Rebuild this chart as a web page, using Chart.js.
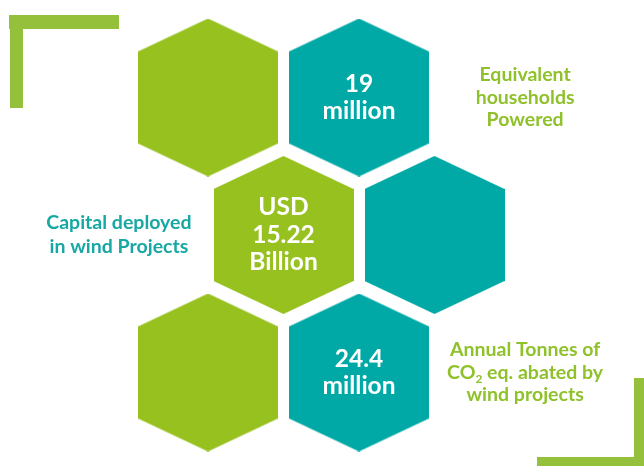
<!DOCTYPE html>
<html>
<head>
<meta charset="utf-8">
<script src="https://cdn.jsdelivr.net/npm/chart.js@4/dist/chart.umd.min.js"></script>
<style>
  html, body { margin: 0; padding: 0; background: #ffffff; }
  canvas { display: block; }
</style>
</head>
<body>
<canvas id="c" width="644" height="466"></canvas>
<script>
// ---- DATA (grid cells of the hexagon honeycomb) ----
const cellCols   = [0, 1, 0.5, 1.5, 0, 1];          // column index (odd rows shifted by half)
const cellRows   = [0, 0, 1, 1, 2, 2];              // row index
const cellColors = ['green', 'teal', 'green', 'teal', 'green', 'teal'];
const cellValues = [
  [],
  ['19', 'million'],
  ['USD', '15.22', 'Billion'],
  [],
  [],
  ['24.4', 'million']
];
// captions placed beside the hexagons, in grid units
const captionCols  = [2.1, -0.59, 2.1];
const captionRows  = [0, 1, 2];
const captionColor = ['green', 'teal', 'green'];
const captionLines = [
  ['Equivalent', 'households', 'Powered'],
  ['Capital deployed', 'in wind Projects'],
  ['Annual Tonnes of', 'CO{2} eq. abated by', 'wind projects']
];

// ---- STYLE ----
const PALETTE = { green: '#97c11f', teal: '#00a9a6' };
const TEXT_PALETTE = { green: '#8fc12a', teal: '#17a8a4' };
const BRACKET = '#95c03b';
const FONT = 'Lato, "Open Sans", sans-serif';

function hexImage(color) {
  const hw = 70, hh = 79, side = 46;
  const cv = document.createElement('canvas');
  cv.width = 2 * hw; cv.height = 2 * hh;
  const g = cv.getContext('2d');
  g.fillStyle = color;
  g.beginPath();
  g.moveTo(hw, 0);
  g.lineTo(2 * hw, hh - side);
  g.lineTo(2 * hw, hh + side);
  g.lineTo(hw, 2 * hh);
  g.lineTo(0, hh + side);
  g.lineTo(0, hh - side);
  g.closePath();
  g.fill();
  return cv;
}
const hexImgs = { green: hexImage(PALETTE.green), teal: hexImage(PALETTE.teal) };

const cellPoints = cellCols.map((c, i) => ({ x: c, y: cellRows[i] }));
const captionPoints = captionCols.map((c, i) => ({ x: c, y: captionRows[i] }));

const bracketPlugin = {
  id: 'brackets',
  beforeDatasetsDraw(chart) {
    const g = chart.ctx;
    g.save();
    g.fillStyle = BRACKET;
    g.fillRect(9, 15, 110, 14);
    g.fillRect(10, 15, 13, 93);
    g.fillRect(634, 378, 10, 88);
    g.fillRect(537, 457, 107, 9);
    g.restore();
  }
};

function drawLine(g, text, x, y, size) {
  // supports subscript marked as {n}
  const m = text.match(/^(.*)\{(.+)\}(.*)$/);
  if (!m) { g.textAlign = 'center'; g.fillText(text, x, y); return; }
  const subSize = Math.round(size * 0.62);
  const main = g.font;
  const subFont = main.replace(/\d+(\.\d+)?px/, subSize + 'px');
  const w1 = g.measureText(m[1]).width;
  const w3 = g.measureText(m[3]).width;
  g.font = subFont;
  const w2 = g.measureText(m[2]).width;
  g.font = main;
  const left = x - (w1 + w2 + w3) / 2;
  g.textAlign = 'left';
  g.fillText(m[1], left, y);
  g.font = subFont;
  g.fillText(m[2], left + w1, y + size * 0.35);
  g.font = main;
  g.fillText(m[3], left + w1 + w2, y);
}

const textPlugin = {
  id: 'texts',
  afterDatasetsDraw(chart) {
    const g = chart.ctx;
    g.save();
    g.textBaseline = 'middle';
    // values inside hexagons
    const meta = chart.getDatasetMeta(0);
    meta.data.forEach((el, i) => {
      const lines = cellValues[i];
      if (!lines.length) return;
      const size = 24.5, lh = 27.5;
      g.font = 'bold ' + size + 'px ' + FONT;
      g.fillStyle = '#ffffff';
      const y0 = el.y - (lines.length - 1) * lh / 2;
      lines.forEach((t, k) => drawLine(g, t, el.x, y0 + k * lh, size));
    });
    // captions
    const meta2 = chart.getDatasetMeta(1);
    meta2.data.forEach((el, i) => {
      const lines = captionLines[i];
      const size = 19.5, lh = i === 1 ? 24 : 22.5;
      g.font = 'bold ' + size + 'px ' + FONT;
      g.fillStyle = TEXT_PALETTE[captionColor[i]];
      const y0 = el.y - (lines.length - 1) * lh / 2;
      lines.forEach((t, k) => drawLine(g, t, el.x, y0 + k * lh, size));
    });
    g.restore();
  }
};

new Chart(document.getElementById('c'), {
  type: 'scatter',
  data: {
    datasets: [
      {
        data: cellPoints,
        pointStyle: ctx => hexImgs[cellColors[ctx.dataIndex]],
        pointRadius: 70,
        clip: false
      },
      {
        data: captionPoints,
        pointRadius: 0,
        clip: false
      }
    ]
  },
  options: {
    responsive: false,
    animation: false,
    events: [],
    layout: { padding: 0, autoPadding: false },
    plugins: { legend: { display: false }, tooltip: { enabled: false } },
    scales: {
      x: { type: 'linear', display: false, min: -208 / 151, max: (644 - 208) / 151 },
      y: { type: 'linear', display: false, reverse: true, min: -97.5 / 137.5, max: (466 - 97.5) / 137.5 }
    }
  },
  plugins: [bracketPlugin, textPlugin]
});
</script>
</body>
</html>
